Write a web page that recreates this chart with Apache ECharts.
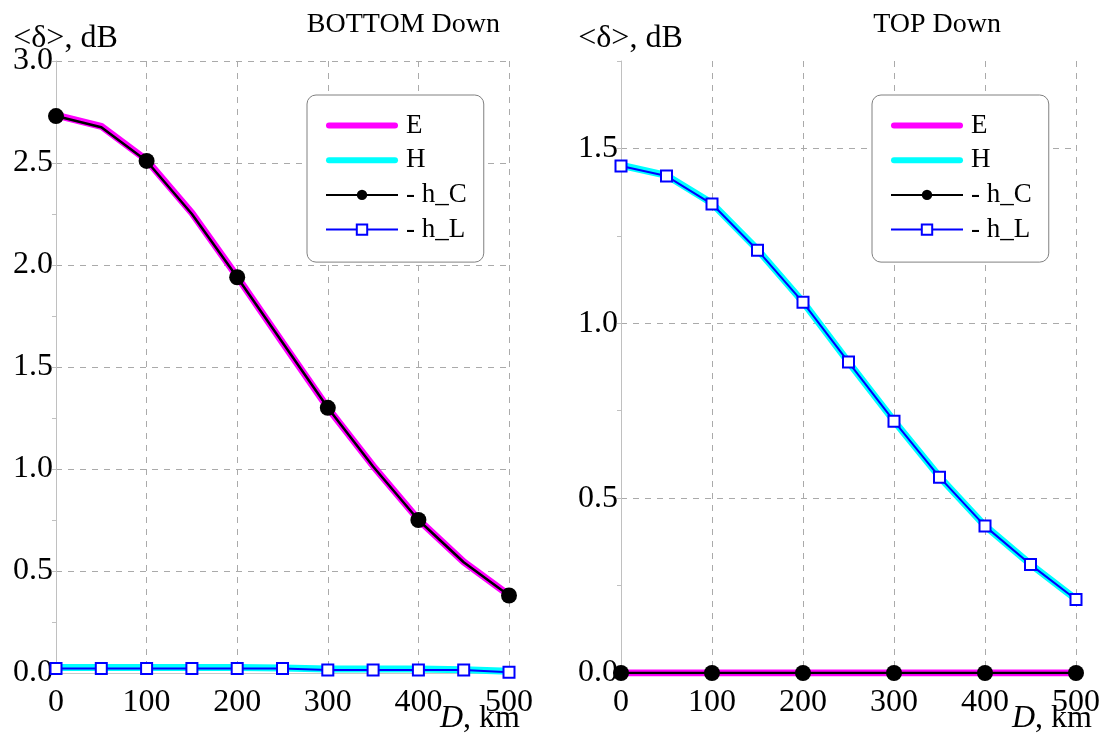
<!DOCTYPE html>
<html>
<head>
<meta charset="utf-8">
<script src="https://cdn.jsdelivr.net/npm/echarts@6/dist/echarts.min.js"></script>
<style>html,body{margin:0;padding:0;background:#fff}#c{width:1103px;height:745px}</style>
</head>
<body>
<div id="c"></div>
<script>
// ---- data ----
const distances = [0, 50, 100, 150, 200, 250, 300, 350, 400, 450, 500];
const xTicks = [0, 100, 200, 300, 400, 500];
const yTicksBottom = [0, 0.5, 1.0, 1.5, 2.0, 2.5, 3.0];
const yTicksTop = [0, 0.5, 1.0, 1.5];
const seriesNames = ['E', 'H', '- h_C', '- h_L'];
const titles = ['BOTTOM Down', 'TOP Down'];

const bottomE  = [2.735, 2.68, 2.515, 2.255, 1.943, 1.62, 1.30, 1.015, 0.752, 0.545, 0.382];
const bottomH  = [0.027, 0.027, 0.027, 0.027, 0.027, 0.025, 0.020, 0.020, 0.020, 0.016, 0.008];
const bottomHC = [2.73, 2.675, 2.51, 2.25, 1.94, 1.62, 1.30, 1.012, 0.75, 0.543, 0.38];
const bottomHL = [0.022, 0.022, 0.022, 0.022, 0.022, 0.022, 0.015, 0.015, 0.015, 0.015, 0.004];

const topE  = [0, 0, 0, 0, 0, 0, 0, 0, 0, 0, 0];
const topH  = [1.452, 1.423, 1.343, 1.211, 1.061, 0.889, 0.721, 0.561, 0.421, 0.311, 0.211];
const topHC = [0, 0, 0, 0, 0, 0, 0, 0, 0, 0, 0];
const topHL = [1.45, 1.421, 1.341, 1.209, 1.06, 0.889, 0.72, 0.56, 0.42, 0.31, 0.21];

// ---- build ----
const FONT = 'Liberation Serif';
const pairs = arr => distances.map((d, i) => [d, arr[i]]);
const BAR_ICON = 'path://M3,0 L69,0 A3,3 0 0 1 69,6 L3,6 A3,3 0 0 1 3,0 Z';

function makeSeries(idx, E, H, HC, HL) {
  return [
    { name: seriesNames[0], type: 'line', xAxisIndex: idx, yAxisIndex: idx, data: pairs(E),
      symbol: 'none', lineStyle: { color: '#ff00ff', width: 7, cap: 'round' }, itemStyle: { color: '#ff00ff' }, z: 2, animation: false },
    { name: seriesNames[1], type: 'line', xAxisIndex: idx, yAxisIndex: idx, data: pairs(H),
      symbol: 'none', lineStyle: { color: '#00ffff', width: 7, cap: 'round' }, itemStyle: { color: '#00ffff' }, z: 2, animation: false },
    { name: seriesNames[2], type: 'line', xAxisIndex: idx, yAxisIndex: idx, data: pairs(HC),
      symbol: 'circle', symbolSize: (v, p) => (p.dataIndex % 2 === 0 ? 16 : 0), showAllSymbol: true,
      lineStyle: { color: '#000000', width: 2.5 }, itemStyle: { color: '#000000' }, z: 3, animation: false },
    { name: seriesNames[3], type: 'line', xAxisIndex: idx, yAxisIndex: idx, data: pairs(HL),
      symbol: 'emptyRect', symbolSize: 11, showAllSymbol: true,
      lineStyle: { color: '#0000ff', width: 2 }, itemStyle: { color: '#0000ff', borderWidth: 2.5 }, z: 4, animation: false }
  ];
}

function xAxisOpt(idx, gap) {
  return {
    type: 'value', gridIndex: idx, min: 0, max: 500, interval: 100,
    name: '{i|D}, km', nameLocation: 'end', nameGap: gap, nameMoveOverlap: false,
    nameTextStyle: { fontFamily: FONT, fontSize: 32, color: '#000', align: 'right', verticalAlign: 'top', padding: [30, 0, 0, 0],
      rich: { i: { fontFamily: FONT, fontSize: 32, fontStyle: 'italic', color: '#000' } } },
    axisLine: { show: true, lineStyle: { color: '#c8c8c8', width: 1 } },
    axisTick: { show: false },
    axisLabel: { fontFamily: FONT, fontSize: 32, color: '#000', margin: 14,
      formatter: v => (xTicks.indexOf(v) >= 0 ? String(v) : '') },
    splitLine: { show: true, showMinLine: false, lineStyle: { color: '#aaaaaa', type: [6, 6], width: 1 } }
  };
}

function yAxisOpt(idx, max, ticks, showMax) {
  return {
    type: 'value', gridIndex: idx, min: 0, max: max, interval: 0.5,
    name: '<δ>, dB', nameLocation: 'end', nameGap: 22, nameMoveOverlap: false,
    nameTextStyle: { fontFamily: FONT, fontSize: 32, color: '#000', align: 'center', verticalAlign: 'middle', padding: [0, 0, 0, 19] },
    axisLine: { show: true, lineStyle: { color: '#c0c0c0', width: 1 } },
    axisTick: { show: true, inside: false, length: 4, lineStyle: { color: '#c0c0c0' } },
    minorTick: { show: true, splitNumber: 2, length: 4, lineStyle: { color: '#c0c0c0' } },
    axisLabel: { fontFamily: FONT, fontSize: 32, color: '#000', margin: 3,
      formatter: v => (ticks.some(t => Math.abs(t - v) < 1e-9) ? v.toFixed(1) : '') },
    splitLine: { show: true, showMinLine: false, showMaxLine: showMax, lineStyle: { color: '#aaaaaa', type: [6, 6], width: 1 } }
  };
}

function legendOpt(left) {
  return {
    data: [
      { name: seriesNames[0], icon: BAR_ICON },
      { name: seriesNames[1], icon: BAR_ICON },
      { name: seriesNames[2] },
      { name: seriesNames[3] }
    ],
    orient: 'vertical', left: left, top: 95,
    backgroundColor: '#ffffff', borderColor: '#808080', borderWidth: 1, borderRadius: 9,
    padding: [17, 17, 19, 18], itemWidth: 72, itemHeight: 13, itemGap: 7.7, symbolKeepAspect: true,
    textStyle: { fontFamily: FONT, fontSize: 27, color: '#000', padding: [0, 0, 0, 3] },
    selectedMode: false
  };
}

const option = {
  backgroundColor: '#ffffff',
  animation: false,
  title: [
    { text: titles[0], right: 598, top: 6, textStyle: { fontFamily: FONT, fontSize: 28, fontWeight: 'normal', color: '#000' } },
    { text: titles[1], right: 97, top: 6, textStyle: { fontFamily: FONT, fontSize: 28, fontWeight: 'normal', color: '#000' } }
  ],
  grid: [
    { left: 56, top: 61, width: 453, height: 612, outerBoundsMode: 'none', containLabel: false },
    { left: 621, top: 61, width: 455, height: 612, outerBoundsMode: 'none', containLabel: false }
  ],
  xAxis: [xAxisOpt(0, 11), xAxisOpt(1, 16)],
  yAxis: [yAxisOpt(0, 3.0, yTicksBottom, true), yAxisOpt(1, 1.75, yTicksTop, false)],
  legend: [legendOpt(307), legendOpt(872)],
  series: [].concat(
    makeSeries(0, bottomE, bottomH, bottomHC, bottomHL),
    makeSeries(1, topE, topH, topHC, topHL)
  )
};

const chart = echarts.init(document.getElementById('c'), null, { renderer: 'canvas' });
chart.setOption(option);
</script>
</body>
</html>
